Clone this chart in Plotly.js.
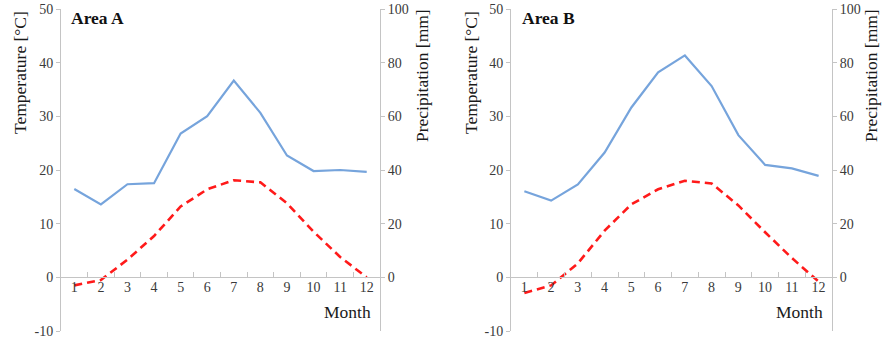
<!DOCTYPE html>
<html>
<head>
<meta charset="utf-8">
<script src="https://cdn.plot.ly/plotly-3.0.1.min.js"></script>
<style>
html,body{margin:0;padding:0;background:#fff;}
#chart{width:882px;height:344px;}
</style>
</head>
<body>
<div id="chart"></div>
<script>
// ---- data ----
const months = ["1","2","3","4","5","6","7","8","9","10","11","12"];
const tempA = [-1.5, -0.5, 3.3, 7.7, 13.2, 16.4, 18.1, 17.7, 13.8, 8.5, 3.8, 0.0];
const precipA = [32.9, 27.2, 34.7, 35.1, 53.6, 60.1, 73.3, 61.3, 45.4, 39.6, 40.0, 39.3];
const tempB = [-2.9, -1.5, 2.6, 8.7, 13.6, 16.4, 18.0, 17.5, 13.4, 8.4, 3.6, -0.8];
const precipB = [32.1, 28.6, 34.6, 46.5, 63.3, 76.4, 82.7, 71.3, 53.0, 41.9, 40.6, 37.8];
const tempTicks = [-10, 0, 10, 20, 30, 40, 50];
const tempTickText = ["-10", "0", "10", "20", "30", "40", "50"];
const precipTicks = [0, 20, 40, 60, 80, 100];
const panelTitles = ["Area A", "Area B"];

const W = 882, H = 344;
const serif = "Liberation Serif, DejaVu Serif, serif";
const axisGray = "#c4c4c4";
const tickFont = {family: serif, size: 14, color: "#3a3a3a"};
const titleFont = {family: serif, size: 17.5, color: "#1a1a1a"};
const blue = "#76a4dc";
const red = "#ff1a1a";

function px(x){return x / W;}
function py(y){return 1 - y / H;}

const yDomain = [py(331), py(9)];
const xDomA = [px(61), px(380)];
const xDomB = [px(511), px(832)];

const traces = [
  {x: months, y: precipA, xaxis: "x", yaxis: "y2", type: "scatter", mode: "lines",
   line: {color: blue, width: 2.2}, hoverinfo: "none"},
  {x: months, y: tempA, xaxis: "x", yaxis: "y", type: "scatter", mode: "lines",
   line: {color: red, width: 2.6, dash: "8px,5px"}, hoverinfo: "none"},
  {x: months, y: precipB, xaxis: "x2", yaxis: "y4", type: "scatter", mode: "lines",
   line: {color: blue, width: 2.2}, hoverinfo: "none"},
  {x: months, y: tempB, xaxis: "x2", yaxis: "y3", type: "scatter", mode: "lines",
   line: {color: red, width: 2.6, dash: "8px,5px"}, hoverinfo: "none"}
];

function xAxis(dom){
  return {
    domain: dom, type: "category", range: [-0.5, 11.5],
    anchor: "free", position: py(277),
    showline: true, linecolor: axisGray, linewidth: 1,
    ticks: "inside", tickson: "boundaries", ticklen: 5, tickcolor: axisGray,
    ticklabelstandoff: -3,
    showgrid: false, zeroline: false, tickfont: tickFont, fixedrange: true
  };
}
function tempAxis(anchor){
  return {
    domain: yDomain, anchor: anchor, range: [-10, 50],
    tickmode: "array", tickvals: tempTicks, ticktext: tempTickText,
    showline: true, linecolor: axisGray, linewidth: 1,
    ticks: "outside", ticklen: 4, tickcolor: axisGray,
    showgrid: false, zeroline: false, tickfont: tickFont, fixedrange: true
  };
}
function precipAxis(anchor, over){
  return {
    domain: yDomain, anchor: anchor, overlaying: over, side: "right",
    range: [-20, 100], tickmode: "array", tickvals: precipTicks,
    showline: true, linecolor: axisGray, linewidth: 1,
    ticks: "outside", ticklen: 4, tickcolor: axisGray,
    showgrid: false, zeroline: false, tickfont: tickFont, fixedrange: true
  };
}

function ann(text, x, y, opts){
  return Object.assign({text: text, xref: "paper", yref: "paper", x: px(x), y: py(y),
    showarrow: false, font: titleFont, xanchor: "center", yanchor: "middle"}, opts || {});
}

const boldFont = {family: serif, size: 17.5, color: "#111"};
const annotations = [
  ann("Temperature [°C]", 20, 73, {textangle: -90}),
  ann("Precipitation [mm]", 422, 76, {textangle: -90}),
  ann("Month", 373, 312, {xanchor: "right"}),
  ann("<b>" + panelTitles[0] + "</b>", 69, 18, {xanchor: "left", font: boldFont}),
  ann("Temperature [°C]", 471, 73, {textangle: -90}),
  ann("Precipitation [mm]", 871, 76, {textangle: -90}),
  ann("Month", 825, 312, {xanchor: "right"}),
  ann("<b>" + panelTitles[1] + "</b>", 520, 18, {xanchor: "left", font: boldFont})
];

const layout = {
  width: W, height: H,
  margin: {l: 0, r: 0, t: 0, b: 0},
  paper_bgcolor: "#fff", plot_bgcolor: "#fff",
  showlegend: false,
  font: {family: serif},
  xaxis: xAxis(xDomA),
  yaxis: tempAxis("x"),
  yaxis2: precipAxis("x", "y"),
  xaxis2: xAxis(xDomB),
  yaxis3: tempAxis("x2"),
  yaxis4: precipAxis("x2", "y3"),
  annotations: annotations
};

Plotly.newPlot("chart", traces, layout, {staticPlot: true, displayModeBar: false});
</script>
</body>
</html>
